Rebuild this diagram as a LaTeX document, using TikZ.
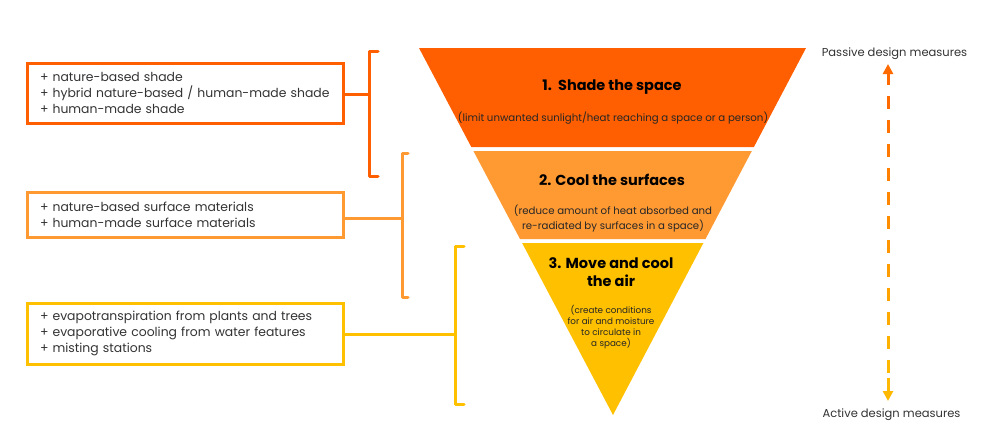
\documentclass[tikz,border=0pt]{standalone}
\usepackage{fontspec}
\setmainfont{Poppins}
\usetikzlibrary{arrows.meta}
\definecolor{cA}{HTML}{FF5F00}
\definecolor{cB}{HTML}{FF9A33}
\definecolor{cC}{HTML}{FFC000}
\definecolor{txt}{HTML}{333333}
\definecolor{arT}{HTML}{FF6A00}
\definecolor{arB}{HTML}{FFB800}
\begin{document}
\begin{tikzpicture}[x=1pt,y=-1pt,
  listbox/.style={draw=#1, line width=3pt, minimum width=316pt, inner xsep=13pt, inner ysep=0pt,
    text width=290pt, align=left, font=\fontsize{12.4}{16}\selectfont, text=txt},
  bracket/.style={draw=#1, line width=3pt, line cap=round, line join=round},
  link/.style={draw=#1, line width=3pt},
  title/.style={font=\fontsize{14.5}{18}\selectfont\bfseries, text=black, align=center, inner sep=0pt},
  sub/.style={font=\fontsize{10.2}{15}\selectfont, text=black!85, align=center, inner sep=0pt},
  sidelabel/.style={font=\fontsize{11.5}{13}\selectfont, text=txt, inner sep=0pt},
  dashseg/.style={line width=3pt}
]
\useasboundingbox (0,0) rectangle (1000,426);

% funnel bands
\fill[cA] (419,48) -- (806,48) -- (753.9,147) -- (471.3,147) -- cycle;
\fill[cB] (473.4,151) -- (751.8,151) -- (705.5,239) -- (520.0,239) -- cycle;
\fill[cC] (522.1,243) -- (703.4,243) -- (613,415) -- cycle;

\node[title] (t1) at (612,87) {1.\ \ Shade the space};
\node[sub] (s1) at (613,118) {(limit unwanted sunlight/heat reaching a space or a person)};
\node[title] (t2) at (612,180) {2. Cool the surfaces};
\node[sub] (s2) at (613,218.5) {(reduce amount of heat absorbed and\\re-radiated by surfaces in a space)};
\node[title] (t3) at (611,272) {3. Move and cool\\the air};
\node[sub, font=\fontsize{8.8}{10.7}\selectfont] (s3) at (611,327) {(create conditions\\for air and moisture\\to circulate in\\a space)};

% list boxes
\node[listbox=cA, minimum height=60pt] (box1) at (185,93) {+ nature-based shade\\+ hybrid nature-based / human-made shade\\+ human-made shade};
\node[listbox=cB, minimum height=45pt] (box2) at (185,214.5) {+ nature-based surface materials\\+ human-made surface materials};
\node[listbox=cC, minimum height=61pt] (box3) at (185,333.5) {+ evapotranspiration from plants and trees\\+ evaporative cooling from water features\\+ misting stations};

% brackets
\coordinate (b1t) at (369,51);
\coordinate (b1b) at (369,176);
\coordinate (b1m) at (369,94);
\draw[bracket=cA] ([xshift=9pt]b1t) -- (b1t) -- (b1b) -- ([xshift=9pt]b1b);
\draw[link=cA] (b1m -| box1.east) -- (b1m);

\coordinate (b2t) at (402,153);
\coordinate (b2b) at (402,297);
\coordinate (b2m) at (402,218);
\draw[bracket=cB] ([xshift=6pt]b2t) -- (b2t) -- (b2b) -- ([xshift=6pt]b2b);
\draw[link=cB] (b2m -| box2.east) -- (b2m);

\coordinate (b3t) at (455,246);
\coordinate (b3b) at (455,404);
\coordinate (b3m) at (455,334);
\draw[bracket=cC] ([xshift=9pt]b3t) -- (b3t) -- (b3b) -- ([xshift=9pt]b3b);
\draw[link=cC] (b3m -| box3.east) -- (b3m);

% side labels
\node[sidelabel] (pas) at (894.5,54) {Passive design measures};
\node[sidelabel] (act) at (891.5,415) {Active design measures};

% gradient dashed double arrow
\coordinate (atop) at (888,64);
\coordinate (abot) at (888,401);
\draw[dashseg, arT, -{Triangle[length=10pt,width=10pt]}] (888,85) -- (atop);
\draw[dashseg, arB, -{Triangle[length=10pt,width=10pt]}] (888,378) -- (abot);
\foreach \k in {0,...,11}{
  \pgfmathsetmacro\p{100-100*\k/11}
  \pgfmathsetmacro\ya{96+24*\k}
  \draw[dashseg, color=arT!\p!arB] (888,\ya) -- (888,\ya+13);
}
\end{tikzpicture}
\end{document}
